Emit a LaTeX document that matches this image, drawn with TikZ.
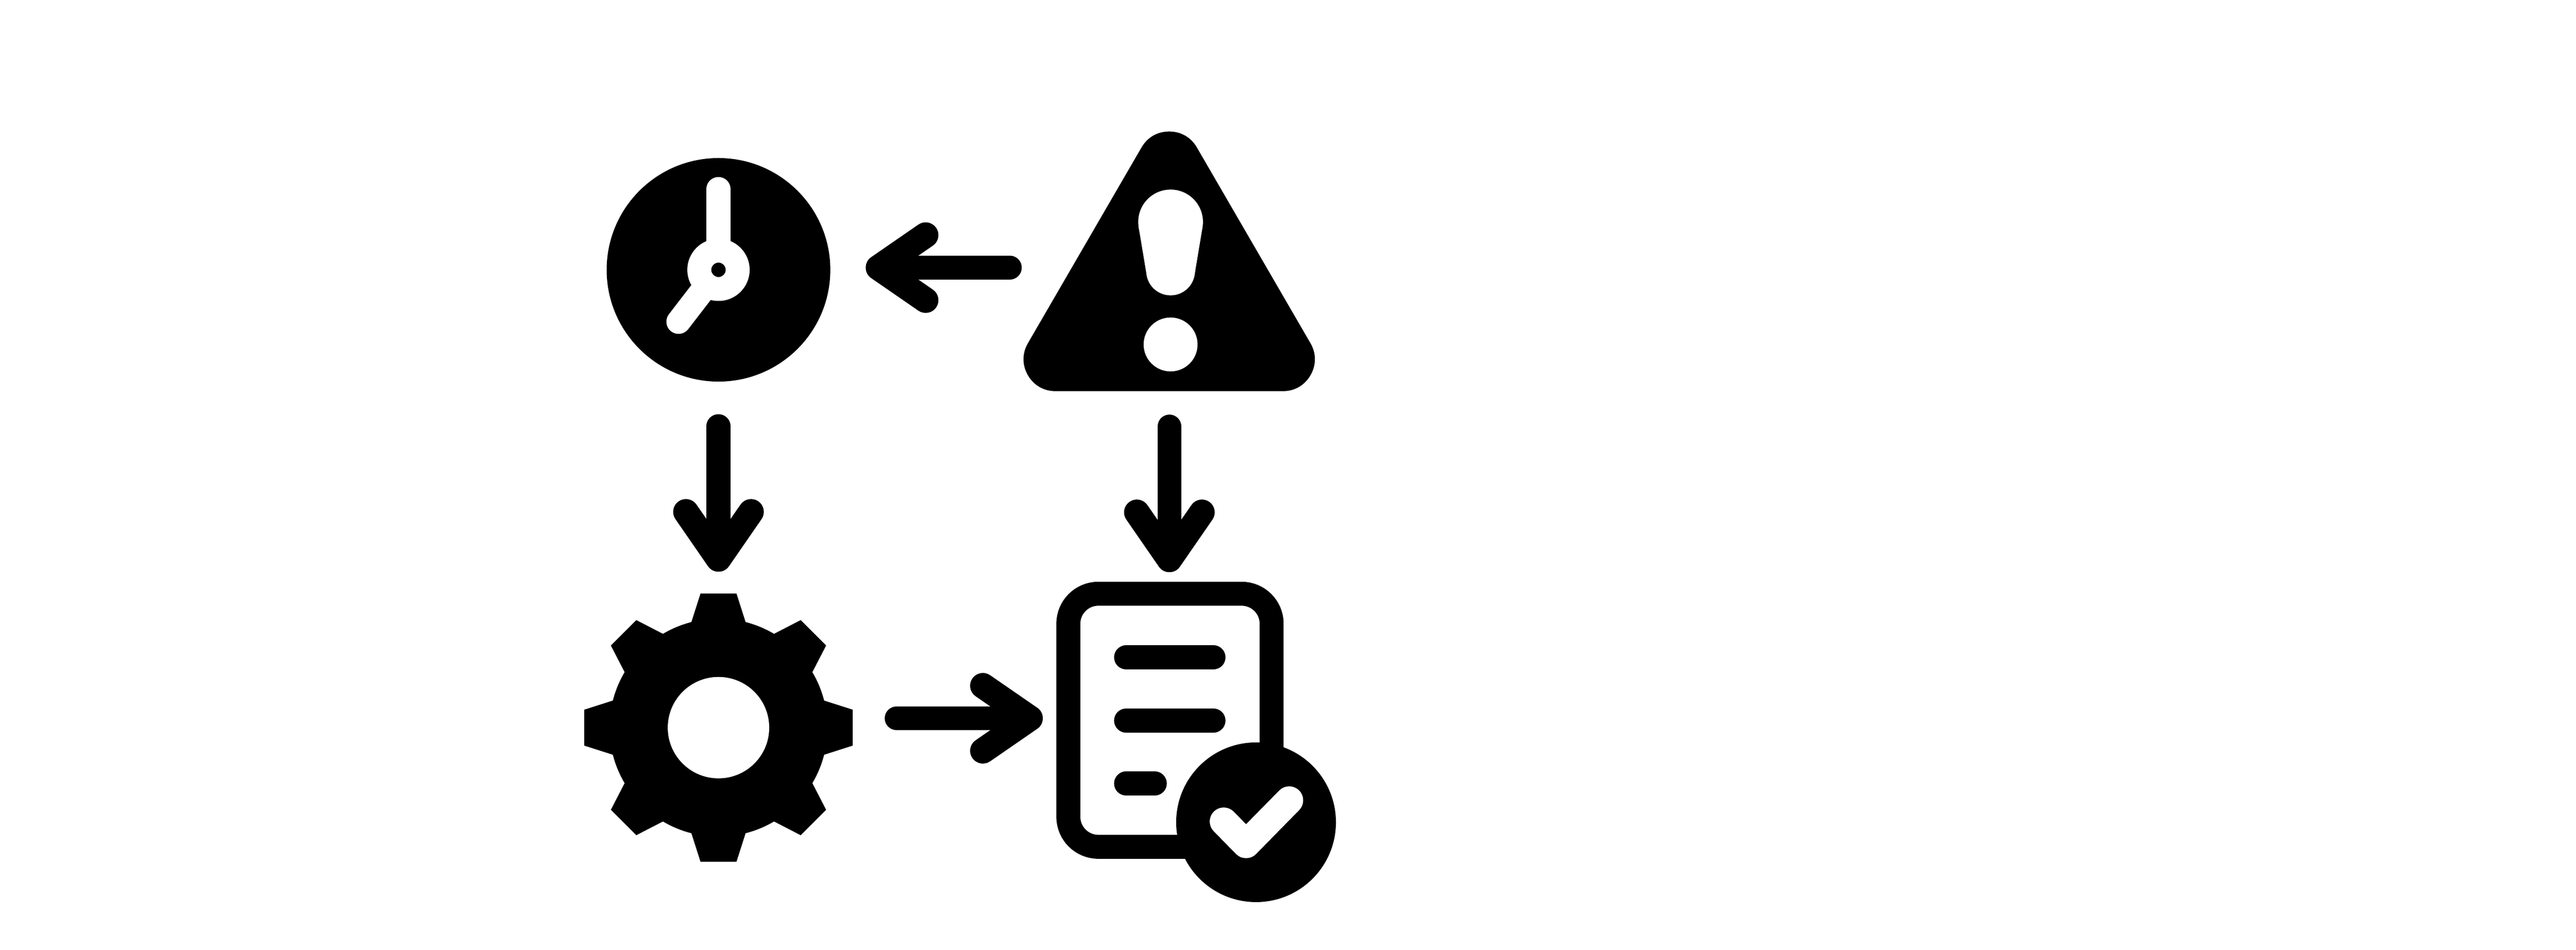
\documentclass[tikz,border=0pt]{standalone}

\pgfdeclarearrow{
  name=FlowHead,
  setup code={
    \pgfarrowssettipend{0pt}
    \pgfarrowssetlineend{-.32cm}
    \pgfarrowssetvisualbackend{-1.82cm}
    \pgfarrowssetbackend{-1.82cm}
    \pgfarrowshullpoint{-1.5cm}{1.135cm}
    \pgfarrowshullpoint{-1.5cm}{-1.135cm}
  },
  drawing code={
    \pgfsetdash{}{0pt}
    \pgfsetroundcap
    \pgfsetroundjoin
    \pgfsetlinewidth{.64cm}
    \pgfpathmoveto{\pgfqpoint{-1.5cm}{.815cm}}
    \pgfpathlineto{\pgfqpoint{-.32cm}{0cm}}
    \pgfpathlineto{\pgfqpoint{-1.5cm}{-.815cm}}
    \pgfusepathqstroke
  }
}

\tikzset{
  clockface/.style={circle,fill=black,inner sep=0pt,minimum size=5.6cm},
  warnbox/.style={rectangle,inner sep=0pt,minimum width=7.29cm,minimum height=6.51cm},
  gearbox/.style={circle,inner sep=0pt,minimum size=6.72cm},
  docsheet/.style={rectangle,draw=black,line width=.6cm,rounded corners=.75cm,inner sep=0pt,minimum width=5.09cm,minimum height=6.34cm},
  flow/.style={black,line width=.6cm,line cap=round,-{FlowHead}},
  hand/.style={white,line width=.61cm,line cap=round},
  textline/.style={black,line width=.61cm,line cap=round}
}

\begin{document}
\begin{tikzpicture}
\useasboundingbox (0,0) rectangle (64.5,23.8);

\node[clockface] (clock) at (17.99,17.04) {};
\node[warnbox]   (warn)  at (29.275,17.255) {};
\node[gearbox]   (gear)  at (17.99,5.57) {};
\node[docsheet]  (doc)   at (29.295,5.755) {};

\begin{scope}[shift={(clock.center)}]
	\fill[white] (0,0) circle (.78);
	\draw[hand] (0,0) -- (0,2.02);
	\draw[hand] (0,0) -- (-1.00,-1.30);
	\fill[black] (0,0) circle (.18);
\end{scope}

\begin{scope}[shift={(warn.center)}]
	\filldraw[black,line width=1.6cm,line join=round] (0,2.45) -- (-2.845,-2.455) -- (2.845,-2.455) -- cycle;
	\fill[white] (.035,.985) circle (.81);
	\fill[white] (.035,-.245) circle (.61);
	\fill[white] (-.765,.855) -- (.835,.855) -- (.635,-.345) -- (-.565,-.345) -- cycle;
	\fill[white] (.035,-2.085) circle (.675);
\end{scope}

\begin{scope}[shift={(gear.center)}]
	\fill[black] (0,0) circle (2.73);
	\foreach \a in {0,45,...,315}
		\fill[black,rotate=\a] (-.68,2.64) -- (-.45,3.36) -- (.45,3.36) -- (.68,2.64) -- cycle;
	\fill[white] (0,0) circle (1.27);
\end{scope}

\begin{scope}[shift={(doc.center)}]
	\draw[textline] (-1.095,1.575) -- (1.085,1.575);
	\draw[textline] (-1.095,-.005) -- (1.085,-.005);
	\draw[textline] (-1.095,-1.585) -- (-.385,-1.585);
	\fill[black] (2.155,-2.555) circle (2.0);
	\draw[white,line width=.7cm,line cap=round,line join=round] (1.345,-2.535) -- (1.905,-3.105) -- (2.985,-2.005);
\end{scope}

\draw[flow,shorten <=.34cm,shorten >=.88cm] ([yshift=-.16cm]warn.west) -- ([yshift=.055cm]clock.east);
\draw[flow,shorten <=1.11cm,shorten >=.54cm] (clock.south) -- (gear.north);
\draw[flow,shorten <=.88cm,shorten >=.24cm] ([xshift=.005cm]warn.south) -- ([xshift=-.015cm]doc.north);
\draw[flow,shorten <=1.095cm,shorten >=.34cm] ([yshift=.235cm]gear.east) -- ([yshift=.05cm]doc.west);

\end{tikzpicture}
\end{document}
